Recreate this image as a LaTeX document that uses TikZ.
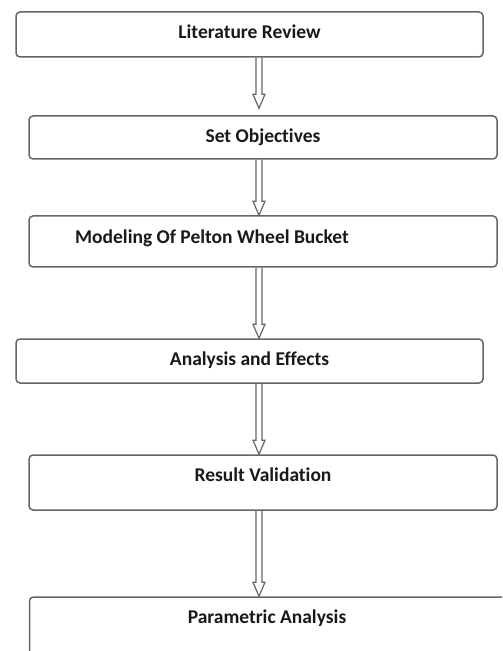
\documentclass[tikz,border=0pt]{standalone}
\usepackage{fontspec}
\setmainfont{Carlito}[Ligatures=NoCommon]
\usetikzlibrary{calc}
\newcommand{\flowarrow}[3][0]{%
  \draw[flow] ($(#2.south -| ax)+(-3,0)$) -- ($(#3.north -| ax)+(-3,-14-#1)$) -- ++(-3,0)
    -- ($(#3.north -| ax)+(0,-#1)$) -- ++(6,-14) -- ++(-3,0) -- ($(#2.south -| ax)+(3,0)$);}

\begin{document}
\begin{tikzpicture}[x=0.5pt, y=-0.5pt,
  every node/.style={font=\fontsize{9.75}{12}\selectfont\bfseries, text=black!90},
  box/.style={draw=black!60, line width=0.75pt, rounded corners=2pt, fill=white,
    inner sep=0pt, text height=7pt},
  flow/.style={draw=black!60, line width=0.6pt, line join=miter}]
\useasboundingbox (0,0) rectangle (502,651);
\clip (0,0) rectangle (502,651);
\coordinate (ax) at (259,0);
\node[box, minimum width=233.5pt, minimum height=22.5pt, text depth=3.1pt] (lit) at (249.5,34.5) {Literature Review};
\node[box, minimum width=234pt, minimum height=21.5pt, text depth=2.1pt] (obj) at (263,137.5) {Set Objectives};
\node[box, minimum width=234pt, minimum height=25.5pt, text depth=5.1pt] (mod) at (263,241.5) {Modeling Of Pelton Wheel Bucket\hspace*{51pt}};
\node[box, minimum width=233.5pt, minimum height=22pt, text depth=2.6pt] (ana) at (249.5,361) {Analysis and Effects};
\node[box, minimum width=234pt, minimum height=27.5pt, text depth=8.1pt] (res) at (263,482.5) {Result Validation};
\node[box, minimum width=242.5pt, minimum height=40pt, text depth=20.6pt] (par) at (272,637) {Parametric Analysis\hspace*{5pt}};
\flowarrow[7]{lit}{obj}
\flowarrow{obj}{mod}
\flowarrow{mod}{ana}
\flowarrow{ana}{res}
\flowarrow{res}{par}
\end{tikzpicture}
\end{document}
